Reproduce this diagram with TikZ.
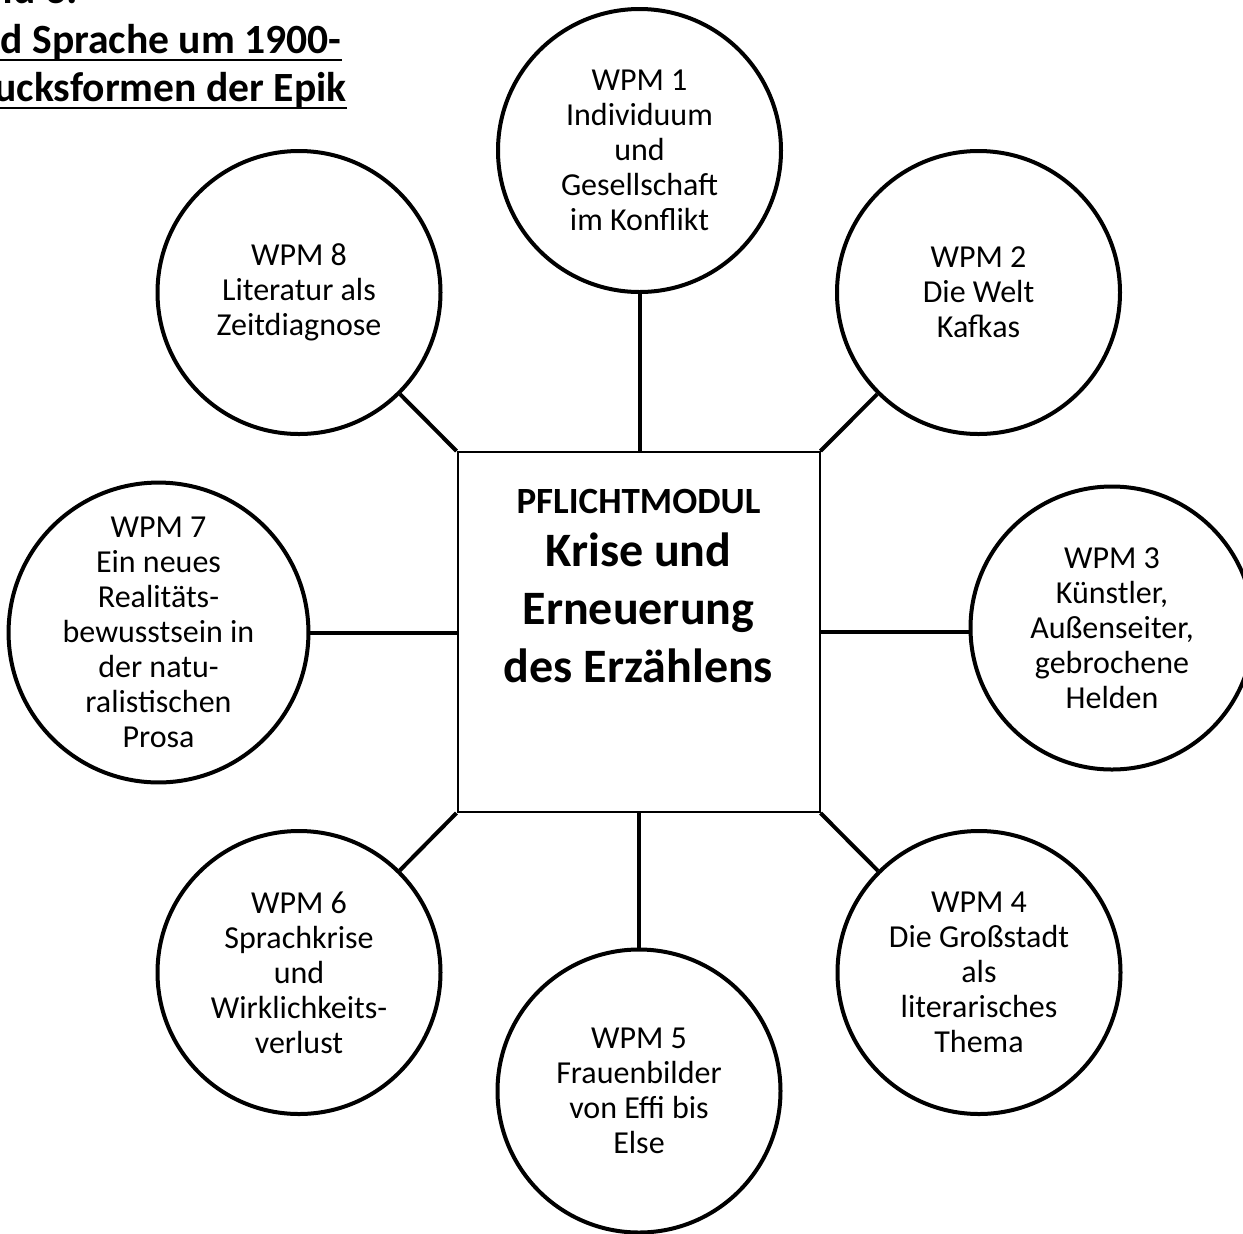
\documentclass[tikz,border=0pt]{standalone}
\usepackage{fontspec}
\setmainfont{Carlito}
\usetikzlibrary{positioning}

\begin{document}
\begin{tikzpicture}[x=0.5pt, y=-0.5pt,
    wpm/.style={circle, draw, fill=white, line width=2pt, minimum size=141.5pt, inner sep=0pt, align=center, font=\fontsize{16}{17.5}\selectfont},
    kasten/.style={rectangle, draw, line width=1pt, minimum width=181pt, minimum height=180pt, inner sep=0pt},
    kerntext/.style={align=center, inner sep=0pt, font=\bfseries\fontsize{24}{29}\selectfont},
    titel/.style={inner sep=0pt, font=\bfseries\fontsize{20.8}{24}\selectfont},
    verbindung/.style={line width=2pt},
    unterstrich/.style={line width=1.3pt}]
    \useasboundingbox (0,0) rectangle (1243,1233);
    \clip (0,0) rectangle (1243,1233);

    \node[titel, anchor=base east] (kopf0) at (78,3) {nd 3:};
    \node[titel, anchor=base east] (kopf1) at (342,53) {d Sprache um 1900-};
    \node[titel, anchor=base east] (kopf2) at (347,101) {ucksformen der Epik};
    \draw[unterstrich] ([yshift=-3.5pt]kopf1.base east) -- ++(-400,0);
    \draw[unterstrich] ([yshift=-3.5pt]kopf2.base east) -- ++(-400,0);

    \node[kasten] (pflicht) at (638.5,632) {};
    \node[kerntext, anchor=north] (kern) at ([yshift=-18.75pt]pflicht.north)
        {{\fontsize{18.5}{22}\selectfont PFLICHTMODUL}\\[-2.25pt]Krise und\\Erneuerung\\des Erzählens};

    \node[wpm] (wpm1) at (639.5,150.5) {WPM 1\\Individuum\\und\\Gesellschaft\\im Konflikt};
    \node[wpm] (wpm2) at (978.5,292.5) {WPM 2\\Die Welt\\Kafkas};
    \node[wpm] (wpm3) at (1112,628) {WPM 3\\Künstler,\\Außenseiter,\\gebrochene\\Helden};
    \node[wpm] (wpm4) at (979,972.5) {WPM 4\\Die Großstadt\\als\\literarisches\\Thema};
    \node[wpm] (wpm5) at (639,1091) {WPM 5\\Frauenbilder\\von Effi bis\\Else};
    \node[wpm] (wpm6) at (299,972.5) {WPM 6\\Sprachkrise\\und\\Wirklichkeits-\\verlust};
    \node[wpm] (wpm7) at (158.5,632.5) {WPM 7\\Ein neues\\Realitäts-\\bewusstsein in\\der natu-\\ralistischen\\Prosa};
    \node[wpm] (wpm8) at (299,292.5) {WPM 8\\Literatur als\\Zeitdiagnose};

    \draw[verbindung] (wpm1) -- (wpm1 |- pflicht.north);
    \draw[verbindung] (pflicht.north east) -- (wpm2);
    \draw[verbindung] (pflicht.east) -- (pflicht.east -| wpm3.west);
    \draw[verbindung] (pflicht.south east) -- (wpm4);
    \draw[verbindung] (wpm5) -- (wpm5 |- pflicht.south);
    \draw[verbindung] (pflicht.south west) -- (wpm6);
    \draw[verbindung] (wpm7) -- (wpm7 -| pflicht.west);
    \draw[verbindung] (pflicht.north west) -- (wpm8);
\end{tikzpicture}
\end{document}
